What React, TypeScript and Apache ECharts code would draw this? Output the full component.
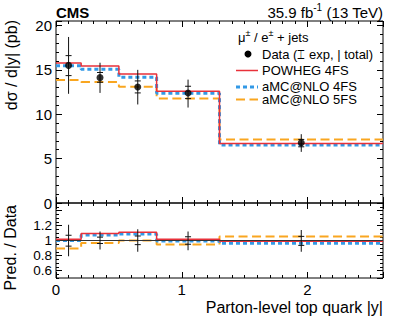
import React, { useEffect, useRef } from "react";
import * as echarts from "echarts";

// ---- data ----
const binEdges = [0, 0.2, 0.5, 0.8, 1.3, 2.6];
const binCenters = [0.1, 0.35, 0.65, 1.05, 1.95];
const dataValues = [15.5, 14.12, 13.07, 12.4, 6.78];
const totalLow = [12.3, 12.4, 11.1, 10.75, 5.76];
const totalHigh = [18.7, 15.8, 15.0, 13.9, 7.75];
const expLow = [14.35, 13.6, 12.4, 11.76, 6.33];
const expHigh = [16.6, 14.7, 13.75, 13.15, 7.16];
const powheg4FS = [15.77, 15.43, 14.53, 12.58, 6.7];
const amcnlo4FS = [15.47, 15.06, 14.16, 12.36, 6.52];
const amcnlo5FS = [13.86, 13.63, 13.1, 11.76, 7.16];
// ratio panel
const powhegRatio = [1.017, 1.095, 1.11, 1.017, 0.99];
const amc4Ratio = [1.0, 1.072, 1.088, 0.995, 0.963];
const amc5Ratio = [0.893, 0.968, 1.0, 0.947, 1.053];
const ratioTotalLow = [0.79, 0.88, 0.85, 0.87, 0.85];
const ratioTotalHigh = [1.21, 1.12, 1.15, 1.12, 1.14];
const ratioExpLow = [0.925, 0.96, 0.945, 0.95, 0.935];
const ratioExpHigh = [1.07, 1.045, 1.06, 1.05, 1.055];
const xTickLabels = ["0", "1", "2"];
const yTickLabels = ["0", "5", "10", "15", "20"];
const ratioTickLabels = ["0.6", "0.8", "1", "1.2"];

const FONT = '"Liberation Sans", Arial, Helvetica, sans-serif';
const RED = "#e8313a";
const BLUE = "#3399e6";
const ORANGE = "#f9a620";

function measure(text: string, size: number, weight = "normal") {
  const c = document.createElement("canvas");
  const ctx = c.getContext("2d")!;
  ctx.font = `${weight} ${size}px ${FONT}`;
  return ctx.measureText(text).width;
}

function stepData(vals: number[]) {
  const d = vals.map((v, i) => [binEdges[i], v]);
  d.push([binEdges[binEdges.length - 1], vals[vals.length - 1]]);
  return d;
}

function errRender(params: any, api: any) {
  const x = api.value(0);
  const pBot = api.coord([x, api.value(1)]);
  const pTop = api.coord([x, api.value(2)]);
  const e1 = api.coord([x, api.value(3)]);
  const e2 = api.coord([x, api.value(4)]);
  const cap = 3;
  const st = { stroke: "#111", lineWidth: 1 };
  return {
    type: "group",
    children: [
      { type: "line", shape: { x1: pTop[0], y1: pTop[1], x2: pBot[0], y2: pBot[1] }, style: st },
      { type: "line", shape: { x1: e1[0] - cap, y1: e1[1], x2: e1[0] + cap, y2: e1[1] }, style: st },
      { type: "line", shape: { x1: e2[0] - cap, y1: e2[1], x2: e2[0] + cap, y2: e2[1] }, style: st },
    ],
  };
}

function tickAxis(gridIndex: number, position: string, min: number, max: number, opts: any, len: number, label?: any) {
  return {
    type: "value",
    gridIndex,
    position,
    min,
    max,
    ...opts,
    axisLine: { show: false, onZero: false },
    splitLine: { show: false },
    axisTick: { show: true, inside: true, length: len, lineStyle: { color: "#000", width: 1 } },
    axisLabel: label ? label : { show: false },
  };
}

const labelStyle = { color: "#000", fontFamily: FONT, fontSize: 15 };

function txt(text: string, x: number, y: number, size: number, align = "left", extra: any = {}) {
  return {
    type: "text",
    x,
    y,
    ...extra,
    style: {
      text,
      fill: "#000",
      fontFamily: FONT,
      fontSize: size,
      fontWeight: extra.fontWeight || "normal",
      align,
      verticalAlign: "middle",
      textAlign: align,
      textVerticalAlign: "middle",
    },
  };
}

export default function App() {
  const ref = useRef<HTMLDivElement>(null);
  useEffect(() => {
    if (!ref.current) return;
    const chart = echarts.init(ref.current, null, { renderer: "svg" });
    const xMin = binEdges[0];
    const xMax = binEdges[binEdges.length - 1];

    const lumiB = " (13 TeV)";
    const lumiS = "-1";
    const lumiA = "35.9 fb";
    const right = 383;
    const wB = measure(lumiB, 15);
    const wS = measure(lumiS, 10);
    const hdr: [string, boolean][] = [["μ", false], ["±", true], [" / e", false], ["±", true], [" + jets", false]];
    let hx = 238;
    const hdrEls: any[] = [];
    hdr.forEach(([t, sup]) => {
      const size = sup ? 9 : 13;
      hdrEls.push(txt(t, hx, sup ? 33 : 37, size, "left"));
      hx += measure(t, size);
    });

    const legendY = { data: 54, red: 70.5, blue: 87, orange: 99.5 };
    const lx1 = 236, lx2 = 258, tx = 262;

    const option: any = {
      animation: false,
      grid: [
        { left: 56, top: 21, width: 327, height: 182, show: true, borderColor: "#000", borderWidth: 1, backgroundColor: "transparent" },
        { left: 56, top: 203, width: 327, height: 75, show: true, borderColor: "#000", borderWidth: 1, backgroundColor: "transparent" },
      ],
      xAxis: [
        tickAxis(0, "bottom", xMin, xMax, { interval: 1 }, 6),
        tickAxis(0, "bottom", xMin, xMax, { interval: 0.1 }, 3),
        tickAxis(0, "top", xMin, xMax, { interval: 1 }, 6),
        tickAxis(0, "top", xMin, xMax, { interval: 0.1 }, 3),
        tickAxis(1, "bottom", xMin, xMax, { interval: 1 }, 6, {
          show: true,
          margin: 4,
          ...labelStyle,
          formatter: (v: number) => {
            const s = String(Math.round(v * 1000) / 1000);
            return xTickLabels.includes(s) ? s : "";
          },
        }),
        tickAxis(1, "bottom", xMin, xMax, { interval: 0.1 }, 3),
        tickAxis(1, "top", xMin, xMax, { interval: 1 }, 6),
        tickAxis(1, "top", xMin, xMax, { interval: 0.1 }, 3),
      ],
      yAxis: [
        tickAxis(0, "left", 0, 20.5, { interval: 5 }, 6, {
          show: true,
          margin: 4,
          ...labelStyle,
          formatter: (v: number) => {
            const s = String(Math.round(v * 1000) / 1000);
            return yTickLabels.includes(s) ? s : "";
          },
        }),
        tickAxis(0, "left", 0, 20.5, { interval: 1 }, 3),
        tickAxis(0, "right", 0, 20.5, { interval: 5 }, 6),
        tickAxis(0, "right", 0, 20.5, { interval: 1 }, 3),
        tickAxis(1, "left", 0.5, 1.5, { splitNumber: 5 }, 6, {
          show: true,
          margin: 4,
          color: "#000",
          fontFamily: FONT,
          fontSize: 13.5,
          lineHeight: 13,
          showMinLabel: false,
          showMaxLabel: false,
          formatter: (v: number) => {
            const s = String(Math.round(v * 1000) / 1000);
            return ratioTickLabels.includes(s) ? s : "";
          },
        }),
        tickAxis(1, "left", 0.5, 1.5, { interval: 0.05 }, 3),
        tickAxis(1, "right", 0.5, 1.5, { splitNumber: 5 }, 6),
        tickAxis(1, "right", 0.5, 1.5, { interval: 0.05 }, 3),
      ],
      series: [
        { type: "line", xAxisIndex: 0, yAxisIndex: 0, step: "end", symbol: "none", data: stepData(amcnlo5FS), lineStyle: { color: ORANGE, width: 2, type: [9, 4.5] }, z: 2 },
        { type: "line", xAxisIndex: 0, yAxisIndex: 0, step: "end", symbol: "none", data: stepData(amcnlo4FS), lineStyle: { color: BLUE, width: 3, type: [4, 3] }, z: 3 },
        { type: "line", xAxisIndex: 0, yAxisIndex: 0, step: "end", symbol: "none", data: stepData(powheg4FS), lineStyle: { color: RED, width: 1.5, type: "solid" }, z: 4 },
        {
          type: "custom",
          xAxisIndex: 0,
          yAxisIndex: 0,
          renderItem: errRender,
          encode: { x: 0, y: [1, 2, 3, 4] },
          data: binCenters.map((x, i) => [x, totalLow[i], totalHigh[i], expLow[i], expHigh[i]]),
          z: 5,
        },
        {
          type: "scatter",
          xAxisIndex: 0,
          yAxisIndex: 0,
          symbol: "circle",
          symbolSize: 7,
          itemStyle: { color: "#000" },
          data: binCenters.map((x, i) => [x, dataValues[i]]),
          z: 6,
        },
        {
          type: "line",
          xAxisIndex: 4,
          yAxisIndex: 4,
          step: "end",
          symbol: "none",
          data: stepData(amc5Ratio),
          lineStyle: { color: ORANGE, width: 2, type: [9, 4.5] },
          z: 2,
          markLine: {
            silent: true,
            symbol: "none",
            label: { show: false },
            lineStyle: { color: "#333", width: 1, type: "solid" },
            data: [{ yAxis: 1 }],
          },
        },
        { type: "line", xAxisIndex: 4, yAxisIndex: 4, step: "end", symbol: "none", data: stepData(amc4Ratio), lineStyle: { color: BLUE, width: 3, type: [4, 3] }, z: 3 },
        { type: "line", xAxisIndex: 4, yAxisIndex: 4, step: "end", symbol: "none", data: stepData(powhegRatio), lineStyle: { color: RED, width: 1.5, type: "solid" }, z: 4 },
        {
          type: "custom",
          xAxisIndex: 4,
          yAxisIndex: 4,
          renderItem: errRender,
          encode: { x: 0, y: [1, 2, 3, 4] },
          data: binCenters.map((x, i) => [x, ratioTotalLow[i], ratioTotalHigh[i], ratioExpLow[i], ratioExpHigh[i]]),
          z: 5,
        },
      ],
      graphic: [
        txt("CMS", 56, 12, 15, "left", { fontWeight: "bold" }),
        txt(lumiB, right, 12, 15, "right"),
        txt(lumiS, right - wB - wS, 7, 10, "left"),
        txt(lumiA, right - wB - wS, 12, 15, "right"),
        ...hdrEls,
        { type: "circle", shape: { cx: 248, cy: legendY.data, r: 3.5 }, style: { fill: "#000" } },
        txt("Data (⌶ exp, | total)", tx, legendY.data, 13),
        { type: "line", shape: { x1: lx1, y1: legendY.red, x2: lx2, y2: legendY.red }, style: { stroke: RED, lineWidth: 1.5 } },
        txt("POWHEG 4FS", tx, legendY.red, 13),
        { type: "line", shape: { x1: lx1, y1: legendY.blue, x2: lx2, y2: legendY.blue }, style: { stroke: BLUE, lineWidth: 3, lineDash: [4, 3] } },
        txt("aMC@NLO 4FS", tx, legendY.blue - 1, 13),
        { type: "line", shape: { x1: lx1, y1: legendY.orange, x2: lx2, y2: legendY.orange }, style: { stroke: ORANGE, lineWidth: 2, lineDash: [9, 4.5] } },
        txt("aMC@NLO 5FS", tx, legendY.orange, 13),
        txt("dσ / d|y| (pb)", 11, 20, 16, "right", { rotation: Math.PI / 2 }),
        txt("Pred. / Data", 10, 205, 16, "right", { rotation: Math.PI / 2 }),
        txt("Parton-level top quark |y|", 383, 307, 16, "right"),
      ],
    };
    chart.setOption(option);
    return () => chart.dispose();
  }, []);
  return <div ref={ref} style={{ width: 399, height: 322, position: "absolute", left: 0, top: 0 }} />;
}
